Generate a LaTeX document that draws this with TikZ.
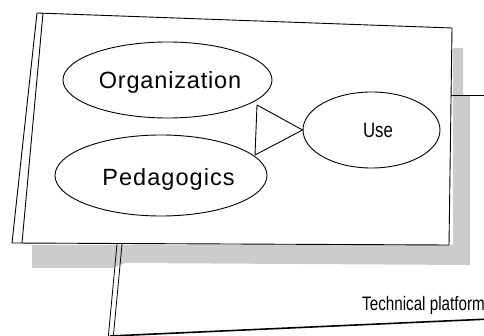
\documentclass[tikz,border=0pt]{standalone}
\usepackage{fontspec}
\setmainfont{Liberation Sans}
\usetikzlibrary{shapes.geometric}
\begin{document}
\begin{tikzpicture}[x=1pt,y=-1pt,
  line/.style={draw=black,line width=0.9pt,line join=round},
  oval/.style={shape=ellipse,draw=black,line width=0.9pt,inner sep=0pt,fill=white},
  shadowfill/.style={fill=black!20,draw=none},
  bigtxt/.style={anchor=base,inner sep=0pt,font=\fontsize{23.5}{28}\selectfont},
  smalltxt/.style={anchor=base,inner sep=0pt,font=\fontsize{21}{25}\selectfont}]
\useasboundingbox (0,0) rectangle (484,336);
\clip (0,0) rectangle (484,336);
% shadow
\path[shadowfill] (453,48) -- (463,48) -- (463,95) -- (470,95) -- (470,265) -- (125,263) -- (112,268) -- (32,268) -- (32,245) -- (453,245) -- cycle;
% panel
\coordinate (tl) at (37,13);
\coordinate (tr) at (452,28);
\coordinate (br) at (449,245);
\coordinate (bl) at (12,243);
\coordinate (itl) at (43,13);
\coordinate (ibl) at (22,243);
\path[fill=white] (tl) -- (tr) -- (br) -- (bl) -- cycle;
\draw[line] (tl) -- (tr) -- (br) -- (bl) -- cycle;
\draw[line] (itl) -- (ibl);
% right connector
\coordinate (rc) at (451,95);
\coordinate (rend) at (490,95);
\draw[line] (rc) -- (rend);
% vertical double connector
\coordinate (v1a) at (117,244);
\coordinate (v1b) at (108,340);
\coordinate (v2a) at (122,244);
\coordinate (v2b) at (113,340);
\draw[line,line width=0.8pt] (v1a) -- (v1b);
\draw[line,line width=0.8pt] (v2a) -- (v2b);
% platform line
\coordinate (pl1) at (110,336);
\coordinate (pl2) at (490,319);
\draw[line,line width=1.6pt] (pl1) -- (pl2);
\node[anchor=base west,inner sep=0pt,font=\fontsize{19.5}{23}\selectfont] (tech) at (362,310.5) {\scalebox{0.78}[1]{Technical platform}};
% ellipses
\node[oval,minimum width=209pt,minimum height=76pt] (org) at (167.5,80) {};
\node[oval,minimum width=212pt,minimum height=81pt] (ped) at (161,175.5) {};
\node[oval,minimum width=137pt,minimum height=76pt] (use) at (371.5,130) {};
\node[bigtxt] (orgt) at (170,88.5) {\addfontfeature{LetterSpace=3.5}Organization};
\node[bigtxt] (pedt) at (168.5,185.5) {\addfontfeature{LetterSpace=4.5}Pedagogics};
\node[smalltxt] (uset) at (378,137.5) {\scalebox{0.8}[1]{Use}};
% triangle connector
\coordinate (ta) at (257,105);
\coordinate (tb) at (255,155);
\draw[line] (ta) -- (use.west) -- (tb) -- cycle;
\end{tikzpicture}
\end{document}
